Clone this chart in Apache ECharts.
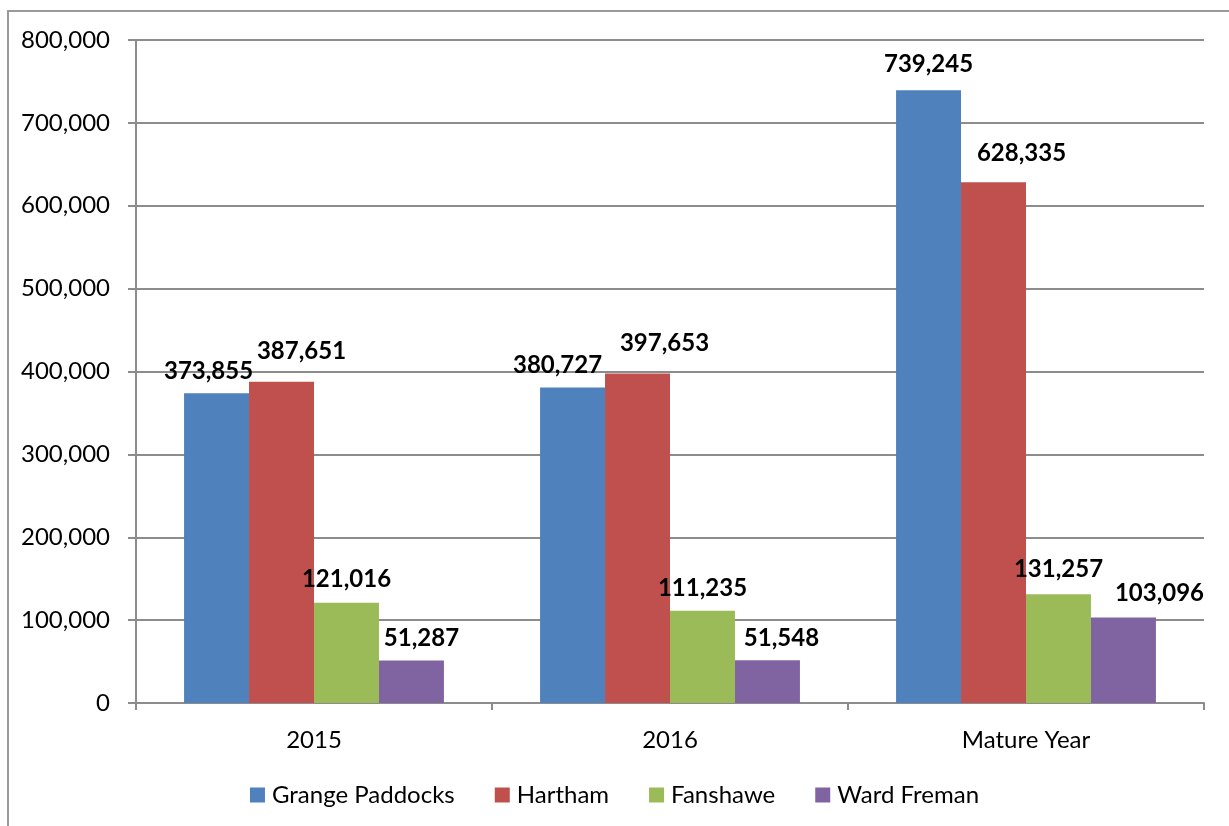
<!DOCTYPE html>
<html>
<head>
<meta charset="utf-8">
<script src="https://cdn.jsdelivr.net/npm/echarts@6/dist/echarts.min.js"></script>
<style>
  html, body { margin: 0; padding: 0; background: #fff; }
  #chart { width: 1229px; height: 826px; }
</style>
</head>
<body>
<div id="chart"></div>
<script>
// categories and series values
const categories = ["2015", "2016", "Mature Year"];
const grangePaddocks = [373855, 380727, 739245];
const hartham = [387651, 397653, 628335];
const fanshawe = [121016, 111235, 131257];
const wardFreman = [51287, 51548, 103096];
const yTicks = [0, 100000, 200000, 300000, 400000, 500000, 600000, 700000, 800000];

// hand-placed value labels in the original, nudged from the bar top
const labelShift = {
  "Grange Paddocks": [[-8, 0], [-15, 0], [0, -4]],
  "Hartham": [[20, -8], [27, -8], [28, -7]],
  "Fanshawe": [[0, -1], [0, -1], [0, -3]],
  "Ward Freman": [[10, 0], [14, 0], [36, -2]]
};

const FONT = "Lato";
const fmt = v => v.toLocaleString("en-US");

function bar(name, data, color) {
  return {
    name: name,
    type: "bar",
    data: data.map((v, i) => ({ value: v, label: { offset: labelShift[name][i] } })),
    barGap: "0%",
    barCategoryGap: "27%",
    itemStyle: { color: color },
    label: {
      show: true,
      position: "top",
      distance: 10,
      formatter: p => fmt(p.value),
      fontFamily: FONT,
      fontWeight: "bold",
      fontSize: 24,
      color: "#000"
    }
  };
}

let myChart = echarts.init(document.getElementById("chart"));
let option = {
  animation: false,
  textStyle: { fontFamily: FONT },
  graphic: [
    {
      type: "rect",
      shape: { x: 8, y: 11, width: 1240, height: 840 },
      style: { fill: "none", stroke: "#9a9a9a", lineWidth: 2 },
      silent: true
    }
  ],
  grid: { left: 136, right: 25, top: 40, bottom: 123 },
  legend: {
    bottom: 14,
    left: "center",
    icon: "rect",
    itemWidth: 15,
    itemHeight: 15,
    itemGap: 40,
    textStyle: { fontFamily: FONT, fontSize: 24, color: "#000", padding: [0, 0, 0, 2] }
  },
  xAxis: {
    type: "category",
    data: categories,
    axisLine: { lineStyle: { color: "#8c8c8c", width: 2 } },
    axisTick: { show: true, length: 7, lineStyle: { color: "#8c8c8c", width: 2 } },
    axisLabel: { fontFamily: FONT, fontSize: 24, color: "#000", margin: 25 }
  },
  yAxis: {
    type: "value",
    min: yTicks[0],
    max: yTicks[yTicks.length - 1],
    interval: yTicks[1] - yTicks[0],
    axisLine: { show: true, lineStyle: { color: "#8c8c8c", width: 2 } },
    axisTick: { show: true, length: 8, lineStyle: { color: "#8c8c8c", width: 2 } },
    axisLabel: {
      fontFamily: FONT,
      fontSize: 24,
      color: "#000",
      margin: 26,
      formatter: v => fmt(v)
    },
    splitLine: { show: true, lineStyle: { color: "#8c8c8c", width: 2 } }
  },
  series: [
    bar("Grange Paddocks", grangePaddocks, "#4F81BD"),
    bar("Hartham", hartham, "#C0504D"),
    bar("Fanshawe", fanshawe, "#9BBB59"),
    bar("Ward Freman", wardFreman, "#8064A2")
  ]
};
myChart.setOption(option);
</script>
</body>
</html>
